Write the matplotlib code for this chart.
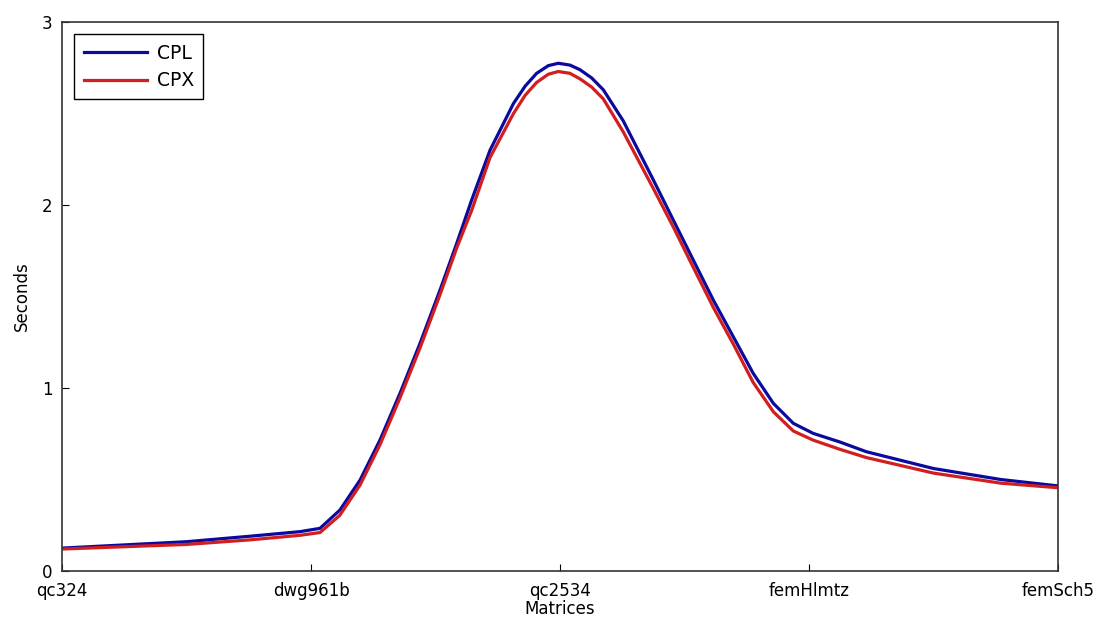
import matplotlib
matplotlib.use("Agg")
import matplotlib.pyplot as plt

plt.rcParams['font.family'] = ['DejaVu Sans']

matrices = ['qc324', 'dwg961b', 'qc2534', 'femHlmtz', 'femSch5']

# positions along the matrix axis where the curves were read (0 = qc324 ... 4 = femSch5)
x_pos = [0, 0.5, 0.755, 0.956, 1.036, 1.116, 1.197, 1.277, 1.357, 1.438, 1.518, 1.585,
         1.645, 1.719, 1.813, 1.86, 1.906, 1.953, 1.993, 2.04, 2.08, 2.127, 2.174, 2.254,
         2.375, 2.455, 2.535, 2.616, 2.696, 2.776, 2.857, 2.937, 3.017, 3.124, 3.23,
         3.5, 3.77, 4.0]

cpl = [0.125, 0.16, 0.19, 0.215, 0.233, 0.333, 0.497, 0.716, 0.97, 1.245, 1.535, 1.79,
       2.027, 2.30, 2.555, 2.65, 2.72, 2.762, 2.775, 2.765, 2.74, 2.695, 2.63, 2.46,
       2.137, 1.918, 1.70, 1.48, 1.28, 1.08, 0.916, 0.807, 0.752, 0.705, 0.652,
       0.56, 0.50, 0.465]

cpx = [0.12, 0.145, 0.17, 0.195, 0.21, 0.305, 0.47, 0.69, 0.945, 1.22, 1.51, 1.765,
       1.97, 2.26, 2.50, 2.60, 2.67, 2.715, 2.73, 2.72, 2.69, 2.645, 2.58, 2.40,
       2.09, 1.88, 1.66, 1.44, 1.24, 1.03, 0.87, 0.765, 0.715, 0.665, 0.62,
       0.535, 0.48, 0.455]

fig = plt.figure(figsize=(11, 6.28), dpi=100)
ax = fig.add_axes([0.0564, 0.0908, 0.9054, 0.874])

ax.plot(x_pos, cpl, color='#0a0a9e', lw=2.3, label='CPL')
ax.plot(x_pos, cpx, color='#d21e1e', lw=2.3, label='CPX')

ax.set_xlim(0, 4)
ax.set_ylim(0, 3)
ax.set_xticks(range(len(matrices)))
ax.set_xticklabels(matrices)
ax.set_yticks([0, 1, 2, 3])
ax.tick_params(direction='in', length=5, labelsize=12, top=False, right=False)
ax.tick_params(axis='x', pad=8)
ax.tick_params(axis='y', pad=7)
ax.set_xlabel('Matrices', fontsize=12, labelpad=0)
ax.set_ylabel('Seconds', fontsize=12, labelpad=8)

for s in ax.spines.values():
    s.set_color('#333333')
    s.set_linewidth(1.2)

leg = ax.legend(loc='upper left', fontsize=13.5, fancybox=False, framealpha=1,
                edgecolor='black', handlelength=3.4, handletextpad=0.5,
                labelspacing=0.45, borderaxespad=0.65, borderpad=0.5)
leg.get_frame().set_linewidth(1.0)

fig.savefig('out.png', dpi=100)
